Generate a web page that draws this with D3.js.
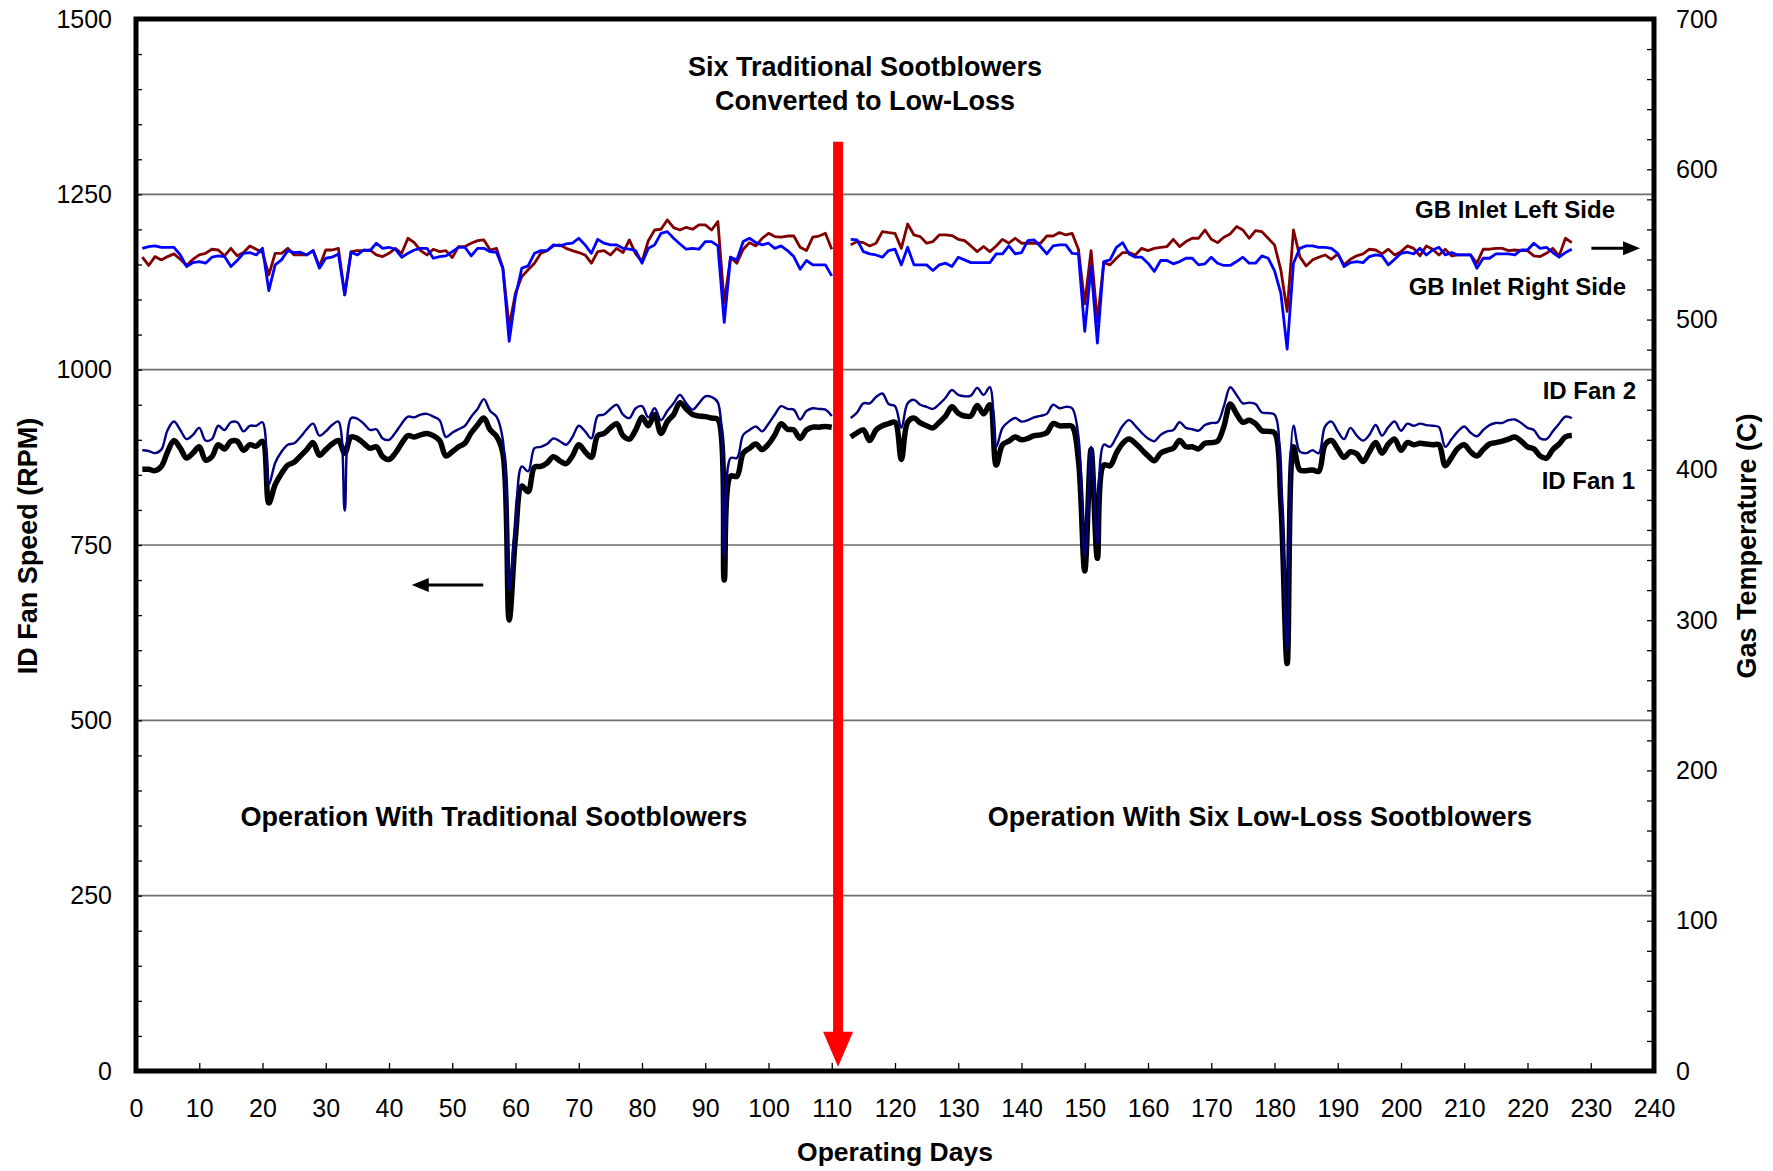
<!DOCTYPE html>
<html>
<head>
<meta charset="utf-8">
<script src="https://cdn.jsdelivr.net/npm/d3@7"></script>
<style>
  body { margin: 0; background: #fff; }
  svg { display: block; font-family: "Liberation Sans", Arial, sans-serif; }
</style>
</head>
<body>
<script>
// operating days: 1-110, then 113-227 (no data on 111-112)
var days = d3.range(1, 111).concat(d3.range(113, 228));

// ID Fan 1 speed (RPM)
var fan1 = [
  858,858,856,862,883,899,888,874,881,890,
  871,876,893,887,898,898,885,893,891,898,
  810,836,852,864,868,877,886,896,878,886,
  894,899,881,904,902,895,888,890,876,872,
  881,895,906,904,907,909,906,899,877,883,
  890,895,910,921,931,914,905,881,643,762,
  834,826,861,862,867,876,870,866,877,893,
  883,875,906,909,917,923,906,901,914,932,
  920,936,909,926,936,953,944,936,934,933,
  931,929,700,848,848,881,888,894,886,894,
  907,923,915,914,902,914,918,918,919,918,
  904,910,914,899,914,920,923,925,872,925,
  931,924,920,917,925,934,947,938,934,934,
  949,937,950,864,893,898,904,900,902,906,
  907,910,923,920,920,919,871,713,886,731,
  864,863,881,895,901,895,886,877,870,881,
  885,888,899,890,890,887,895,896,898,919,
  951,937,925,928,923,913,912,910,810,581,
  890,857,856,857,855,893,899,887,875,883,
  880,869,883,896,881,894,901,885,896,893,
  895,894,893,893,863,875,888,893,883,877,
  886,894,896,898,901,904,898,890,887,877,
  874,886,894,904,906
];

// ID Fan 2 speed (RPM)
var fan2 = [
  885,884,881,886,914,926,914,901,907,917,
  899,901,920,914,925,925,912,920,920,925,
  836,867,883,893,895,904,915,923,906,912,
  921,926,799,931,930,923,914,915,902,900,
  910,923,933,932,936,937,933,928,904,910,
  915,920,933,944,958,941,933,900,686,781,
  862,855,888,890,894,902,898,893,904,920,
  912,902,934,936,944,950,936,931,945,948,
  932,945,928,941,952,964,952,943,952,962,
  961,953,733,874,874,907,914,919,912,923,
  936,948,944,943,929,941,945,944,943,934,
  931,939,952,952,961,966,951,948,917,952,
  957,950,947,944,951,960,971,964,962,963,
  974,964,975,890,917,926,931,926,928,932,
  934,937,950,945,947,945,905,733,890,752,
  893,890,904,920,928,920,910,902,898,907,
  912,914,925,917,915,913,921,924,925,948,
  975,964,952,953,951,939,938,936,838,600,
  920,883,881,885,881,919,926,912,901,917,
  906,899,907,921,906,918,926,913,923,920,
  923,921,920,918,890,901,912,919,910,905,
  914,921,924,924,928,929,924,917,914,902,
  901,912,923,933,931
];

// GB inlet left side gas temperature (C)
var gbLeft = [
  541.5,536.0,541.9,539.7,541.9,543.7,540.1,536.0,540.1,543.0,
  544.1,546.8,546.3,542.4,547.4,542.4,544.6,549.0,546.8,544.6,
  529.7,544.1,544.1,547.4,543.0,543.0,543.0,545.9,535.3,546.3,
  546.3,547.4,516.5,545.2,545.9,545.9,546.3,543.0,541.9,544.1,
  547.4,544.1,554.1,551.2,545.9,543.0,546.8,545.2,545.9,541.3,
  548.6,548.6,550.8,552.5,553.0,546.3,547.4,534.2,495.4,517.6,
  528.6,533.1,537.5,544.1,545.9,549.0,549.7,547.4,545.9,544.6,
  543.0,537.5,545.2,545.9,543.0,547.4,544.6,553.0,543.7,538.6,
  552.5,559.6,560.1,566.3,561.2,559.6,561.4,560.1,563.0,563.0,
  559.6,565.2,510.9,541.5,537.5,546.8,551.2,549.0,554.1,557.4,
  555.2,554.8,555.6,555.6,548.1,545.9,554.8,555.6,557.4,546.8,
  549.7,551.9,551.2,549.0,550.8,558.5,557.9,557.4,547.4,563.6,
  556.3,555.2,550.8,551.9,556.3,556.3,555.9,553.4,552.5,549.0,
  545.2,548.6,545.2,549.0,553.4,550.8,554.1,550.8,550.8,550.8,
  550.8,555.6,555.6,557.9,556.3,557.4,546.8,510.5,545.9,498.8,
  537.9,536.4,540.8,544.6,544.6,543.0,547.4,545.9,547.4,548.1,
  548.6,553.4,548.6,551.9,554.1,554.1,559.6,553.4,551.2,554.8,
  557.0,561.9,559.6,554.1,559.2,558.5,554.1,549.7,533.1,505.4,
  559.6,541.9,535.7,539.7,541.5,543.0,540.1,543.7,536.4,540.1,
  542.4,543.7,546.8,546.3,543.7,546.8,543.0,545.2,549.0,547.4,
  542.4,549.0,546.8,543.0,546.8,542.4,543.0,543.0,543.0,537.5,
  546.8,546.8,547.4,547.4,545.9,546.3,545.9,545.9,542.4,541.9,
  544.1,547.4,542.4,554.1,551.2
];

// GB inlet right side gas temperature (C)
var gbRight = [
  547.4,548.6,549.0,548.1,548.1,548.1,543.0,535.3,537.9,538.6,
  537.5,541.5,542.4,541.9,535.3,539.3,544.1,544.6,543.0,547.4,
  519.3,536.4,539.7,545.9,544.6,544.8,543.0,545.9,534.2,540.8,
  541.5,543.7,516.5,544.8,543.0,546.3,545.9,550.8,547.4,548.1,
  546.8,541.5,544.1,546.3,547.4,547.4,540.8,541.9,542.4,545.2,
  548.1,548.1,542.4,547.4,547.4,545.2,544.8,534.2,485.5,515.4,
  534.2,535.7,544.1,545.9,545.9,549.7,549.0,550.3,550.8,554.1,
  549.7,544.1,553.4,550.8,549.7,549.7,547.4,546.8,545.9,537.5,
  547.4,549.7,557.4,558.5,554.1,550.3,546.8,547.4,546.8,551.9,
  551.9,549.0,498.1,541.5,539.7,551.9,554.1,551.2,549.7,550.8,
  547.4,549.0,545.9,541.9,533.5,539.3,536.4,536.4,536.4,529.1,
  553.4,553.0,545.2,543.7,543.0,541.5,545.9,546.8,536.4,548.1,
  536.4,536.4,536.4,532.6,536.4,537.5,535.3,541.5,539.7,537.9,
  537.9,537.9,537.9,543.7,543.7,549.0,543.7,544.6,552.5,553.0,
  548.6,543.7,549.0,549.7,549.7,544.1,543.7,492.1,535.3,484.4,
  538.6,539.7,548.1,551.2,543.7,541.5,541.5,537.5,532.0,539.3,
  539.3,537.1,538.6,540.8,540.8,536.4,537.1,541.5,537.5,536.0,
  536.0,538.6,541.5,537.5,537.5,542.4,540.8,532.6,517.6,480.4,
  537.5,547.4,549.0,549.0,548.1,548.1,547.4,544.1,535.3,537.9,
  538.6,537.9,541.9,543.0,542.4,536.4,540.1,544.1,544.8,543.7,
  547.4,543.0,546.3,548.1,543.0,544.6,543.0,543.0,543.0,534.2,
  540.8,540.8,543.7,543.7,543.7,543.0,546.3,546.3,550.8,547.4,
  548.1,544.6,541.5,544.6,546.8
];

var xTicks = d3.range(0, 241, 10);
var leftTicks = [0, 250, 500, 750, 1000, 1250, 1500];
var rightTicks = [0, 100, 200, 300, 400, 500, 600, 700];

// annotation anchors, in data units
var conversionDay = 111;

var w = 1773, h = 1171;
var svg = d3.select("body").append("svg")
    .attr("width", w)
    .attr("height", h);

var x = d3.scaleLinear().domain([0, 240]).range([136, 1654]);
var yL = d3.scaleLinear().domain([0, 1500]).range([1071, 19]);
var yR = d3.scaleLinear().domain([0, 700]).range([1071, 19]);

// horizontal grid
svg.append("g")
  .selectAll("line")
  .data(leftTicks.filter(function(d) { return d > 0 && d < 1500; }))
  .enter().append("line")
    .attr("x1", x(0)).attr("x2", x(240))
    .attr("y1", yL).attr("y2", yL)
    .attr("stroke", "#6e6e6e")
    .attr("stroke-width", 1.6);

// minor ticks, all pointing into the plot
var tickL = svg.append("g").attr("transform", "translate(" + x(0) + ",0)")
    .call(d3.axisLeft(yL).tickValues(d3.range(0, 1501, 50)).tickSize(-6).tickFormat(""));
var tickR = svg.append("g").attr("transform", "translate(" + x(240) + ",0)")
    .call(d3.axisRight(yR).tickValues(d3.range(0, 701, 20)).tickSize(-7).tickFormat(""));
var tickB = svg.append("g").attr("transform", "translate(0," + yL(0) + ")")
    .call(d3.axisBottom(x).tickValues(xTicks).tickSize(-8).tickFormat(""));
[tickL, tickR, tickB].forEach(function(g) {
  g.select(".domain").remove();
  g.selectAll("line").attr("stroke", "#000").attr("stroke-width", 1.3);
});

// tick labels
var fmt = d3.format("d");
var labL = svg.append("g").attr("transform", "translate(" + x(0) + ",0)")
    .call(d3.axisLeft(yL).tickValues(leftTicks).tickFormat(fmt).tickSize(0).tickPadding(24));
var labR = svg.append("g").attr("transform", "translate(" + x(240) + ",0)")
    .call(d3.axisRight(yR).tickValues(rightTicks).tickFormat(fmt).tickSize(0).tickPadding(22));
var labB = svg.append("g").attr("transform", "translate(0," + yL(0) + ")")
    .call(d3.axisBottom(x).tickValues(xTicks).tickFormat(fmt).tickSize(0).tickPadding(28));
[labL, labR, labB].forEach(function(g) {
  g.select(".domain").remove();
  g.attr("font-family", null).attr("font-size", null);
  g.selectAll("text").attr("fill", "#000").style("font-size", "25px");
});

// series
function points(vals) {
  var out = [];
  days.forEach(function(d, i) {
    if (i > 0 && d - days[i - 1] > 1) out.push(null);
    out.push({day: d, v: vals[i]});
  });
  return out;
}

var fanLine = d3.line()
    .defined(function(d) { return d !== null; })
    .curve(d3.curveCatmullRom.alpha(0.5))
    .x(function(d) { return x(d.day); })
    .y(function(d) { return yL(d.v); });

var gasLine = d3.line()
    .defined(function(d) { return d !== null; })
    .x(function(d) { return x(d.day); })
    .y(function(d) { return yR(d.v); });

svg.append("path").datum(points(gbLeft))
    .attr("d", gasLine).attr("fill", "none")
    .attr("stroke", "#800000").attr("stroke-width", 2.8).attr("stroke-linejoin", "round");
svg.append("path").datum(points(gbRight))
    .attr("d", gasLine).attr("fill", "none")
    .attr("stroke", "#0000ff").attr("stroke-width", 2.8).attr("stroke-linejoin", "round");
svg.append("path").datum(points(fan1))
    .attr("d", fanLine).attr("fill", "none")
    .attr("stroke", "#000").attr("stroke-width", 5.5).attr("stroke-linejoin", "round");
svg.append("path").datum(points(fan2))
    .attr("d", fanLine).attr("fill", "none")
    .attr("stroke", "#000080").attr("stroke-width", 2.4).attr("stroke-linejoin", "round");

// plot frame
svg.append("rect")
    .attr("x", x(0)).attr("y", yL(1500))
    .attr("width", x(240) - x(0)).attr("height", yL(0) - yL(1500))
    .attr("fill", "none").attr("stroke", "#000").attr("stroke-width", 5);

// red conversion arrow
var cx = x(conversionDay);
svg.append("line")
    .attr("x1", cx).attr("x2", cx)
    .attr("y1", yL(1325)).attr("y2", yL(50))
    .attr("stroke", "#ff0000").attr("stroke-width", 10);
svg.append("path")
    .attr("d", "M" + (cx - 15) + "," + yL(56) + "L" + (cx + 15) + "," + yL(56) + "L" + cx + "," + yL(6) + "Z")
    .attr("fill", "#ff0000");

// axis direction arrows
function arrow(x1, x2, y) {
  var dir = x2 > x1 ? 1 : -1;
  svg.append("line")
      .attr("x1", x1).attr("x2", x2 - dir * 14).attr("y1", y).attr("y2", y)
      .attr("stroke", "#000").attr("stroke-width", 3);
  svg.append("path")
      .attr("d", "M" + x2 + "," + y + "L" + (x2 - dir * 17) + "," + (y - 7) + "L" + (x2 - dir * 17) + "," + (y + 7) + "Z")
      .attr("fill", "#000");
}
arrow(x(54.9), x(43.6), yL(693));
arrow(x(230.1), x(237.8), yR(547.5));

// text
function label(txt, px, py, size, anchor) {
  return svg.append("text")
      .attr("x", px).attr("y", py)
      .attr("text-anchor", anchor || "middle")
      .attr("font-weight", "bold")
      .style("font-size", size + "px")
      .text(txt);
}
label("Six Traditional Sootblowers", 865, 76, 27);
label("Converted to Low-Loss", 865, 110, 27);
label("Operation With Traditional Sootblowers", 494, 826, 27);
label("Operation With Six Low-Loss Sootblowers", 1260, 826, 27);
label("GB Inlet Left Side", 1615, 218, 24, "end");
label("GB Inlet Right Side", 1626, 295, 24, "end");
label("ID Fan 2", 1636, 399, 24, "end");
label("ID Fan 1", 1635, 489, 24, "end");
label("Operating Days", 895, 1161, 26.5);
label("ID Fan Speed (RPM)", 0, 0, 27).attr("transform", "translate(37,546) rotate(-90)");
label("Gas Temperature (C)", 0, 0, 27).attr("transform", "translate(1756,546) rotate(-90)");
</script>
</body>
</html>
